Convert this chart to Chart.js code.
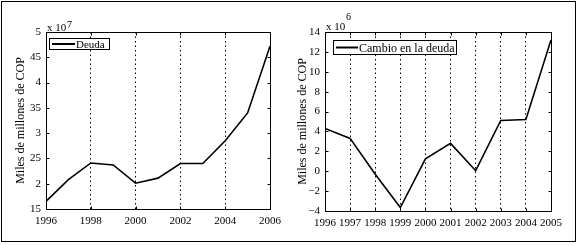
<!DOCTYPE html>
<html>
<head>
<meta charset="utf-8">
<script src="https://cdn.jsdelivr.net/npm/chart.js@4.4.0/dist/chart.umd.min.js"></script>
<style>
  html, body { margin: 0; padding: 0; background: #fff; }
  #frame { position: absolute; left: 1px; top: 1px; width: 573px; height: 239px; border: 1px solid #000; }
  .wrap { position: absolute; top: 0; width: 289px; height: 245px; }
</style>
</head>
<body>
<div id="frame"></div>
<div class="wrap" style="left:0"><canvas id="deudaChart" width="289" height="245"></canvas></div>
<div class="wrap" style="left:289px"><canvas id="cambioChart" width="289" height="245"></canvas></div>
<script>
// Deuda (x 10^7)
const deudaYears = [1996, 1997, 1998, 1999, 2000, 2001, 2002, 2003, 2004, 2005, 2006];
const deudaValues = [1.65, 2.08, 2.41, 2.37, 2.01, 2.11, 2.40, 2.40, 2.85, 3.40, 4.72];
const deudaXTicks = [1996, 1998, 2000, 2002, 2004, 2006];
const deudaYTicks = [1.5, 2, 2.5, 3, 3.5, 4, 4.5, 5];
const deudaYLabels = ["15", "2", "25", "3", "35", "4", "45", "5"];

// Cambio en la deuda (x 10^6)
const cambioYears = [1996, 1997, 1998, 1999, 2000, 2001, 2002, 2003, 2004, 2005];
const cambioValues = [4.3, 3.3, -0.3, -3.65, 1.25, 2.8, 0.05, 5.1, 5.2, 13.2];
const cambioXTicks = [1996, 1997, 1998, 1999, 2000, 2001, 2002, 2003, 2004, 2005];
const cambioYTicks = [-4, -2, 0, 2, 4, 6, 8, 10, 12, 14];
const cambioYLabels = ["\u22124", "\u22122", "0", "2", "4", "6", "8", "10", "12", "14"];

const FONT = '"Liberation Serif", "DejaVu Serif", serif';

const extrasPlugin = {
  id: "extras",
  afterDraw(chart, args, o) {
    const { ctx, chartArea: a, scales } = chart;
    const L = Math.round(a.left) + 0.5, R = Math.round(a.right) + 0.5;
    const T = Math.round(a.top) + 0.5, B = Math.round(a.bottom) + 0.5;
    ctx.save();
    ctx.strokeStyle = "#000";
    ctx.lineWidth = 1;
    ctx.setLineDash([]);
    ctx.strokeRect(L, T, R - L, B - T);

    // inward tick marks
    ctx.beginPath();
    scales.x.ticks.forEach(t => {
      const x = Math.round(scales.x.getPixelForValue(t.value)) + 0.5;
      ctx.moveTo(x, B); ctx.lineTo(x, B - 3);
      ctx.moveTo(x, T); ctx.lineTo(x, T + 3);
    });
    scales.y.ticks.forEach(t => {
      const y = Math.round(scales.y.getPixelForValue(t.value)) + 0.5;
      ctx.moveTo(L, y); ctx.lineTo(L + 3, y);
      ctx.moveTo(R, y); ctx.lineTo(R - 3, y);
    });
    ctx.stroke();

    // exponent label
    ctx.fillStyle = "#000";
    ctx.textBaseline = "alphabetic";
    ctx.textAlign = "left";
    ctx.font = "11px " + FONT;
    ctx.fillText("x 10", a.left + 1, o.expY);
    ctx.font = "10px " + FONT;
    ctx.fillText(o.exp, a.left + 21, o.supY);

    // legend box
    const b = o.box;
    ctx.fillStyle = "#fff";
    ctx.fillRect(b[0], b[1], b[2], b[3]);
    ctx.strokeRect(b[0] + 0.5, b[1] + 0.5, b[2], b[3]);
    const cy = b[1] + b[3] / 2 + 0.5;
    ctx.lineWidth = 2;
    ctx.beginPath();
    ctx.moveTo(b[0] + 3, cy);
    ctx.lineTo(b[0] + 3 + o.lineLen, cy);
    ctx.stroke();
    ctx.fillStyle = "#000";
    ctx.font = o.legendFont + "px " + FONT;
    ctx.textBaseline = "middle";
    ctx.fillText(o.label, b[0] + 4 + o.lineLen, cy + 1);
    ctx.restore();
  }
};

function makeChart(id, cfg) {
  const ctx = document.getElementById(id).getContext("2d");
  return new Chart(ctx, {
    type: "line",
    data: {
      datasets: [{
        data: cfg.years.map((yr, i) => ({ x: yr, y: cfg.values[i] })),
        borderColor: "#000",
        borderWidth: 1.6,
        pointRadius: 0,
        tension: 0,
        fill: false
      }]
    },
    options: {
      responsive: false,
      animation: false,
      layout: { padding: { top: 32, right: cfg.padRight, bottom: 0, left: 0 } },
      scales: {
        x: {
          type: "linear",
          min: cfg.xTicks[0],
          max: cfg.xTicks[cfg.xTicks.length - 1],
          afterBuildTicks: s => { s.ticks = cfg.xTicks.map(v => ({ value: v })); },
          afterFit: s => { s.height = cfg.xHeight; },
          grid: { display: true, drawTicks: false, color: "#000", lineWidth: 1 },
          border: { display: false, dash: [1.5, 3] },
          ticks: {
            color: "#000",
            font: { family: FONT, size: 11 },
            padding: 6,
            maxRotation: 0,
            autoSkip: false,
            callback: v => String(v)
          }
        },
        y: {
          min: cfg.yTicks[0],
          max: cfg.yTicks[cfg.yTicks.length - 1],
          afterBuildTicks: s => { s.ticks = cfg.yTicks.map(v => ({ value: v })); },
          afterFit: s => { s.width = cfg.yWidth; },
          grid: { display: false, drawTicks: false },
          border: { display: false },
          ticks: {
            color: "#000",
            font: { family: FONT, size: 11 },
            padding: 5,
            autoSkip: false,
            callback: (v, i) => cfg.yLabels[i]
          },
          title: {
            display: true,
            text: "Miles de millones de COP",
            color: "#000",
            font: { family: FONT, size: 12 },
            padding: { top: cfg.titlePad, bottom: 0 }
          }
        }
      },
      plugins: {
        legend: { display: false },
        tooltip: { enabled: false },
        extras: cfg.extras
      }
    },
    plugins: [extrasPlugin]
  });
}

makeChart("deudaChart", {
  years: deudaYears, values: deudaValues,
  xTicks: deudaXTicks, yTicks: deudaYTicks, yLabels: deudaYLabels,
  padRight: 19, xHeight: 36, yWidth: 46, titlePad: 14,
  extras: { label: "Deuda", exp: "7", expY: 31, supY: 28, box: [49, 38, 60, 11], lineLen: 23, legendFont: 11 }
});

makeChart("cambioChart", {
  years: cambioYears, values: cambioValues,
  xTicks: cambioXTicks, yTicks: cambioYTicks, yLabels: cambioYLabels,
  padRight: 27, xHeight: 34, yWidth: 36, titlePad: 7,
  extras: { label: "Cambio en la deuda", exp: "6", expY: 30, supY: 20, box: [44, 40, 123, 14], lineLen: 22, legendFont: 12 }
});
</script>
</body>
</html>
